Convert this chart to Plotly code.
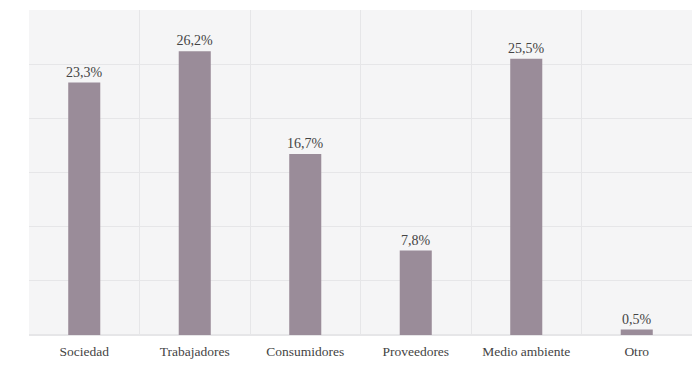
import plotly.graph_objects as go

categories = ["Sociedad", "Trabajadores", "Consumidores", "Proveedores", "Medio ambiente", "Otro"]
values = [23.3, 26.2, 16.7, 7.8, 25.5, 0.5]
labels = ["23,3%", "26,2%", "16,7%", "7,8%", "25,5%", "0,5%"]

SERIF = "Liberation Serif, DejaVu Serif, serif"

fig = go.Figure(go.Bar(
    x=categories, y=values, text=labels, textposition="outside",
    marker_color="#9a8c99", marker_line_width=0,
    textfont=dict(family=SERIF, size=14, color="#444444"),
    constraintext="none",
    cliponaxis=False,
))

fig.update_layout(
    width=692, height=386,
    margin=dict(l=29, r=0, t=10, b=51),
    paper_bgcolor="white", plot_bgcolor="#f5f5f6",
    bargap=0.71, showlegend=False,
    font=dict(family=SERIF, size=13, color="#444444"),
)
fig.update_xaxes(tickson="boundaries", showgrid=True, gridcolor="#e6e6e8", gridwidth=1,
                 ticks="", ticklabelstandoff=6,
                 tickfont=dict(family=SERIF, size=13.5, color="#444444"))
fig.update_yaxes(range=[0, 30], dtick=5, showticklabels=False, showgrid=True,
                 gridcolor="#e6e6e8", gridwidth=1, zeroline=True, zerolinecolor="#e6e6e8")

fig.write_html("out.html")
